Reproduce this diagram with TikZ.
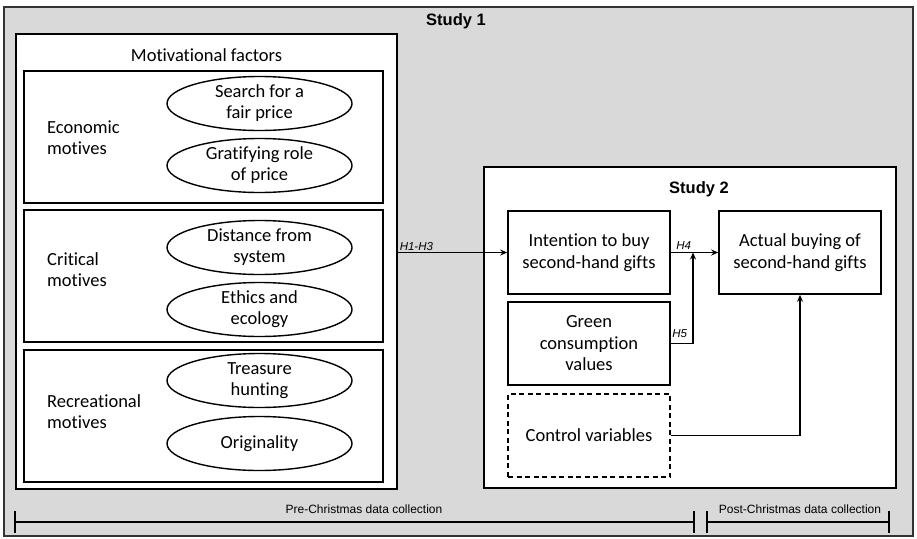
\documentclass[tikz,border=0pt]{standalone}
\usepackage{fontspec}
\setmainfont{Carlito}[Ligatures={NoCommon}]
\newfontfamily\arialf{Liberation Sans}
\usetikzlibrary{shapes.geometric,arrows.meta}
\definecolor{bggray}{HTML}{D9D9D9}
\tikzset{
  box/.style={draw=black,line width=1.6pt,fill=white,rectangle,inner sep=2pt,align=center},
  ell/.style={draw=black,line width=1.4pt,fill=white,ellipse,minimum width=185pt,minimum height=54pt,inner sep=0pt,align=center,font=\fontsize{18.5}{21}\selectfont},
  vbox/.style={box,minimum width=162pt,minimum height=83pt,font=\fontsize{18.5}{21.5}\selectfont},
  conn/.style={line width=1.4pt,-{Stealth[length=7pt,width=6pt]}},
  hlab/.style={font=\arialf\itshape\fontsize{11.5}{13}\selectfont,inner sep=1.5pt},
  tl/.style={line width=1.3pt},
  tlab/.style={font=\arialf\fontsize{12}{14}\selectfont,inner sep=0pt},
  mlab/.style={anchor=west,align=left,inner sep=0pt,font=\fontsize{18.5}{21}\selectfont}
}
\begin{document}
\begin{tikzpicture}[x=1pt,y=-1pt]
\useasboundingbox (0,0) rectangle (917,538);
\fill[white] (0,0) rectangle (917,538);
\node[box,fill=bggray,line width=1.4pt,minimum width=909pt,minimum height=529pt,draw=black!80] (outer) at (458.5,271.5) {};
\node[font=\arialf\bfseries\fontsize{16.5}{18}\selectfont] (s1) at (456,21) {Study 1};
% Motivational factors
\node[box,minimum width=381pt,minimum height=455pt] (mot) at (206.5,261.5) {};
\node[font=\fontsize{18.5}{21}\selectfont] (motlab) at (206.5,55) {Motivational factors};
\node[box,minimum width=359pt,minimum height=132pt] (eco) at (203.5,137) {};
\node[box,minimum width=359pt,minimum height=132pt] (cri) at (203.5,276) {};
\node[box,minimum width=359pt,minimum height=132pt] (rec) at (203.5,416) {};
\node[mlab] (ecol) at (47,138) {Economic\\motives};
\node[mlab] (cril) at (47,270) {Critical\\motives};
\node[mlab] (recl) at (47,412) {Recreational\\motives};
\node[ell] (e1) at (259.5,103.5) {Search for a\\fair price};
\node[ell] (e2) at (259.5,165.5) {Gratifying role\\of price};
\node[ell] (e3) at (259.5,247.5) {Distance from\\system};
\node[ell] (e4) at (259.5,309.5) {Ethics and\\ecology};
\node[ell] (e5) at (259.5,380.5) {Treasure\\hunting};
\node[ell] (e6) at (259.5,443.5) {Originality};
% Study 2
\node[box,minimum width=412pt,minimum height=321pt] (s2box) at (690,327.5) {};
\node[font=\arialf\bfseries\fontsize{16.5}{18}\selectfont] (s2) at (699,189) {Study 2};
\node[vbox] (int) at (589,252.5) {Intention to buy\\second-hand gifts};
\node[vbox] (grn) at (589,343.5) {Green\\consumption\\values};
\node[vbox,dashed,dash pattern=on 5pt off 3.5pt,line width=1.4pt] (ctl) at (589,435.5) {Control variables};
\node[vbox] (act) at (800,252.5) {Actual buying of\\second-hand gifts};
% connectors
\draw[conn] (mot.east |- int.west) -- node[hlab,above,pos=0.17] {H1-H3} (int.west);
\draw[conn] (int.east) -- node[hlab,above,pos=0.27,yshift=1pt] {H4} (act.west);
\coordinate (h5c) at (693,343.5);
\coordinate (h5t) at (693,252.5);
\draw[conn] (grn.east |- h5c) -- node[hlab,above,pos=0.4,yshift=4pt] {H5} (h5c) -- (h5t);
\coordinate (ctc) at (800,435.5);
\draw[conn] (ctl.east) -- (ctc) -- (act.south);
% timeline
\coordinate (p1) at (15,522);
\coordinate (p2) at (694,522);
\coordinate (q1) at (707,522);
\coordinate (q2) at (889,522);
\draw[tl] (p1) -- (p2);
\draw[tl] ([yshift=-11pt]p1) -- ([yshift=11pt]p1);
\draw[tl] ([yshift=-11pt]p2) -- ([yshift=11pt]p2);
\draw[tl] (q1) -- (q2);
\draw[tl] ([yshift=-11pt]q1) -- ([yshift=11pt]q1);
\draw[tl] ([yshift=-11pt]q2) -- ([yshift=11pt]q2);
\node[tlab] (pre) at (364,509) {Pre-Christmas data collection};
\node[tlab] (post) at (800,509) {Post-Christmas data collection};
\end{tikzpicture}
\end{document}
